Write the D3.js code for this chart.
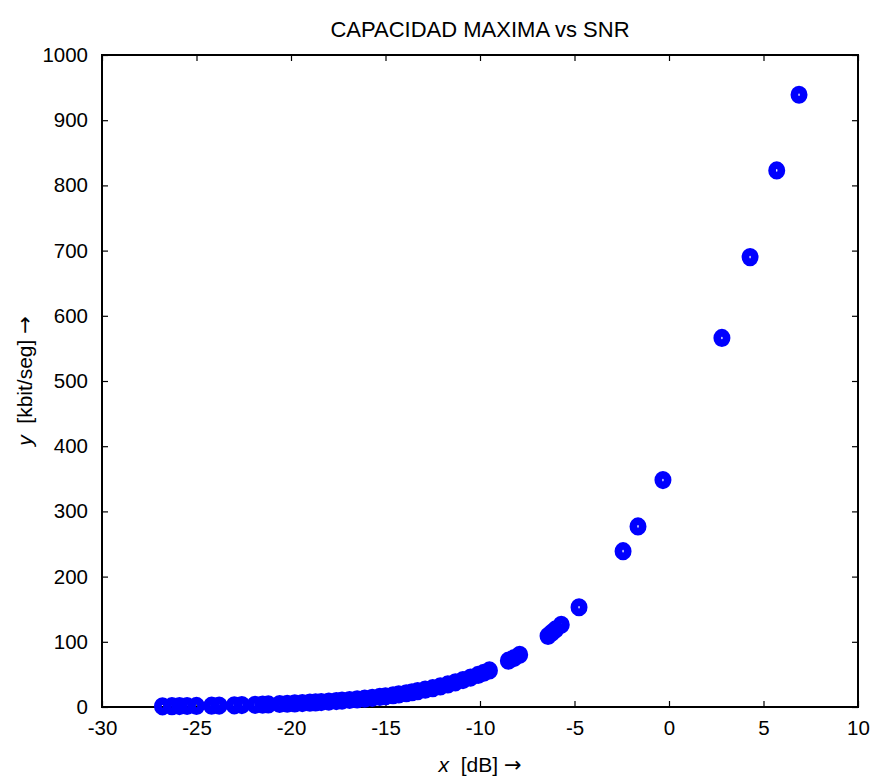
<!DOCTYPE html>
<html><head><meta charset="utf-8">
<script src="https://cdn.jsdelivr.net/npm/d3@7"></script>
<style>body{margin:0;background:#fff}svg{display:block}text{font-family:"Liberation Sans",Arial,sans-serif;fill:#000}</style>
</head><body><svg id="c" width="878" height="777"></svg>
<script>
const snrDb = [-26.8,-26.3,-25.9,-25.5,-25.0,-24.2,-23.8,-23.0,-22.6,-21.9,-21.5,-21.2,-20.6,-20.2,-19.8,-19.4,-19.0,-18.7,-18.4,-18.0,-17.6,-17.3,-16.9,-16.5,-16.1,-15.7,-15.3,-15.0,-14.6,-14.3,-13.9,-13.6,-13.3,-12.9,-12.5,-12.1,-11.7,-11.3,-10.9,-10.5,-10.1,-9.8,-9.5,-8.5,-8.2,-7.9,-6.4,-6.2,-6.0,-5.7,-4.76,-2.43,-1.64,-0.32,2.8,4.29,5.7,6.88];
const capacity = [1.1,1.2,1.4,1.5,1.7,2.0,2.2,2.6,2.9,3.4,3.7,4.0,4.6,5.0,5.5,6.0,6.6,7.1,7.6,8.3,9.1,9.8,10.7,11.7,12.8,14.1,15.4,16.5,18.0,19.3,21.1,22.6,24.2,26.5,28.9,31.6,34.6,37.8,41.3,45.1,49.2,52.5,56.1,71,75,80,109,114,119,126,153,239,277,348,566,690,823,939];
const xTicks = [-30,-25,-20,-15,-10,-5,0,5,10];
const yTicks = [0,100,200,300,400,500,600,700,800,900,1000];
const title = "CAPACIDAD MAXIMA vs SNR";

const L=102,R=858,T=55,B=707;
const svg=d3.select("#c");
const x=d3.scaleLinear().domain([-30,10]).range([L,R]);
const y=d3.scaleLinear().domain([0,1000]).range([B,T]);
const tl=6;
const fmt=d=>String(d);

const fs="20.5px";
svg.append("g").attr("transform",`translate(0,${B})`)
  .call(d3.axisBottom(x).tickValues(xTicks).tickSizeInner(-tl).tickSizeOuter(0).tickPadding(13).tickFormat(fmt))
  .call(g=>{g.select(".domain").remove();g.selectAll("text").style("font-size",fs).style("font-family","Liberation Sans, Arial");});
svg.append("g").attr("transform",`translate(0,${T})`)
  .call(d3.axisTop(x).tickValues(xTicks).tickSizeInner(-tl).tickSizeOuter(0).tickFormat(""))
  .call(g=>g.select(".domain").remove());
svg.append("g").attr("transform",`translate(${L},0)`)
  .call(d3.axisLeft(y).tickValues(yTicks).tickSizeInner(-tl).tickSizeOuter(0).tickPadding(14).tickFormat(fmt))
  .call(g=>{g.select(".domain").remove();g.selectAll("text").style("font-size",fs).style("font-family","Liberation Sans, Arial");});
svg.append("g").attr("transform",`translate(${R},0)`)
  .call(d3.axisRight(y).tickValues(yTicks).tickSizeInner(-tl).tickSizeOuter(0).tickFormat(""))
  .call(g=>g.select(".domain").remove());
svg.selectAll(".tick line").attr("stroke","#000").attr("stroke-width",1.2);

svg.append("rect").attr("x",L).attr("y",T).attr("width",R-L).attr("height",B-T)
  .attr("fill","none").attr("stroke","#000").attr("stroke-width",2);

svg.append("g").selectAll("ellipse").data(snrDb).join("ellipse")
  .attr("cx",d=>x(d)).attr("cy",(d,i)=>y(capacity[i]))
  .attr("rx",4.6).attr("ry",5.2).attr("fill","none").attr("stroke","#0000ff").attr("stroke-width",7.8);

svg.append("text").attr("x",(L+R)/2).attr("y",37).attr("text-anchor","middle")
  .style("font-size","22px").text(title);

const xl=svg.append("text").attr("x",(L+R)/2).attr("y",772).attr("text-anchor","middle").style("font-size","21px");
xl.append("tspan").style("font-style","italic").text("x");
xl.append("tspan").text("\u00a0\u00a0[dB]\u00a0");
xl.append("tspan").style("font-family","DejaVu Sans").text("\u2192");

const yl=svg.append("text").attr("transform",`translate(32,${(T+B)/2}) rotate(-90)`).attr("text-anchor","middle").style("font-size","21px");
yl.append("tspan").style("font-style","italic").text("y");
yl.append("tspan").text("\u00a0\u00a0[kbit/seg]\u00a0");
yl.append("tspan").style("font-family","DejaVu Sans").text("\u2192");
</script></body></html>
